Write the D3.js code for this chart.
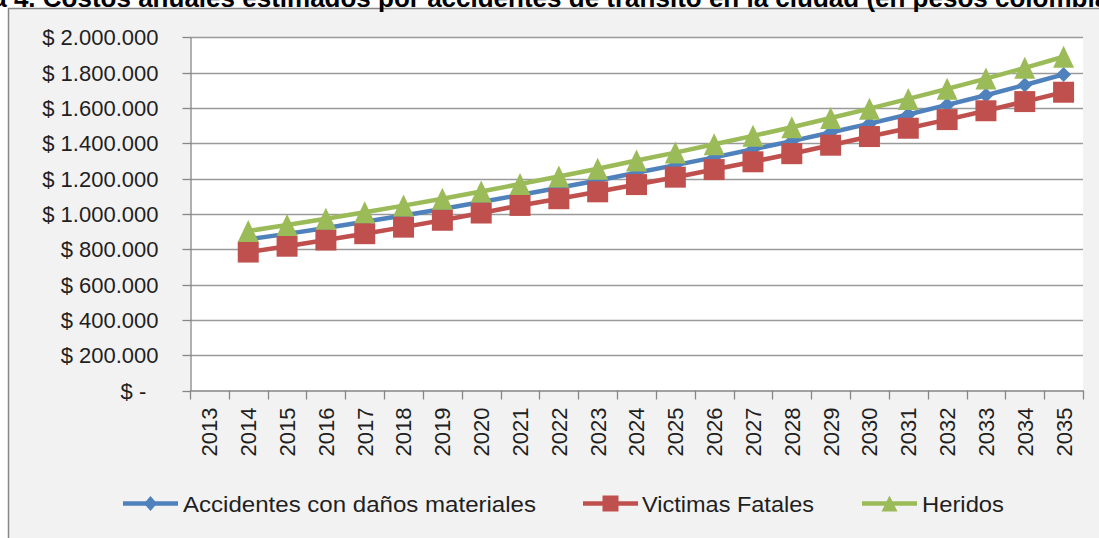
<!DOCTYPE html>
<html>
<head>
<meta charset="utf-8">
<script src="https://cdn.jsdelivr.net/npm/d3@7/dist/d3.min.js"></script>
<style>
  body { margin: 0; background: #ffffff; }
  svg { display: block; }
</style>
</head>
<body>
<svg id="chart" width="1099" height="538"></svg>
<script>
// Categories (2013 has no data)
const years = ["2013","2014","2015","2016","2017","2018","2019","2020","2021","2022","2023",
               "2024","2025","2026","2027","2028","2029","2030","2031","2032","2033","2034","2035"];

// Costs in Colombian pesos
const accidentesDanos = [null, 856000, 887000, 920000, 955000, 991000, 1028000, 1067000, 1107000,
  1148000, 1189000, 1233000, 1276000, 1320000, 1366000, 1412000, 1461000, 1511000, 1563000,
  1617000, 1672000, 1730000, 1790000];
const victimasFatales = [null, 784000, 817000, 852000, 888000, 925000, 964000, 1005000, 1048000,
  1086000, 1125000, 1166000, 1208000, 1251000, 1295000, 1341000, 1389000, 1438000, 1485000,
  1534000, 1584000, 1636000, 1689000];
const heridos = [null, 903000, 937000, 972000, 1009000, 1047000, 1086000, 1127000, 1169000,
  1212000, 1256000, 1302000, 1347000, 1394000, 1442000, 1491000, 1543000, 1596000, 1651000,
  1708000, 1766000, 1827000, 1890000];

const yTicks = [0, 200000, 400000, 600000, 800000, 1000000, 1200000, 1400000, 1600000, 1800000, 2000000];

const seriesNames = ["Accidentes con daños materiales", "Victimas Fatales", "Heridos"];
const seriesColors = ["#4f81bd", "#c0504d", "#9bbb59"];
const seriesShapes = ["diamond", "square", "triangle"];
const seriesValues = [accidentesDanos, victimasFatales, heridos];

const titleText = "Gráfica 4. Costos anuales estimados por accidentes de tránsito en la ciudad (en pesos colombianos)";

const svg = d3.select("#chart");
const font = "'Liberation Sans', Arial, sans-serif";
const textColor = "#1f1f1f";
const axisColor = "#868686";
const gridColor = "#9a9a9a";

// Chart frame
svg.append("rect")
  .attr("x", 8.5).attr("y", 8.5)
  .attr("width", 1200).attr("height", 700)
  .attr("fill", "#f2f2f2")
  .attr("stroke", axisColor).attr("stroke-width", 1.5);

// Title (runs off the top edge)
svg.append("text")
  .attr("x", 1164).attr("y", 7)
  .attr("text-anchor", "end")
  .attr("font-family", font).attr("font-weight", "bold").attr("font-size", 26)
  .attr("fill", "#000")
  .text(titleText);

const plot = { left: 190, right: 1083, top: 37.3, bottom: 390.5 };

const x = d3.scaleBand().domain(years).range([plot.left, plot.right]).padding(0);
const y = d3.scaleLinear().domain([0, 2000000]).range([plot.bottom, plot.top]);

// Plot area
svg.append("rect")
  .attr("x", plot.left).attr("y", plot.top)
  .attr("width", plot.right - plot.left).attr("height", plot.bottom - plot.top)
  .attr("fill", "#ffffff");

// Horizontal gridlines
svg.append("g")
  .selectAll("line")
  .data(yTicks.filter(d => d > 0))
  .join("line")
  .attr("x1", plot.left).attr("x2", plot.right)
  .attr("y1", d => Math.round(y(d)) + 0.5).attr("y2", d => Math.round(y(d)) + 0.5)
  .attr("stroke", gridColor).attr("stroke-width", 1.3);

// Y axis
const fmtPesos = v => v === 0 ? "$ -\u2007" : "$ " + d3.format(",")(v).replace(/,/g, ".");
const yAxis = svg.append("g")
  .attr("transform", `translate(${plot.left + 0.5},0)`)
  .call(d3.axisLeft(y).tickValues(yTicks).tickFormat(fmtPesos).tickSize(8).tickSizeOuter(0).tickPadding(24));
yAxis.selectAll(".tick line").attr("stroke", axisColor).attr("stroke-width", 1.3);
yAxis.selectAll(".tick").attr("transform", d => `translate(0,${Math.round(y(d)) + 0.5})`);
yAxis.select(".domain").attr("stroke", axisColor).attr("stroke-width", 1.3);
yAxis.selectAll("text")
  .attr("font-family", font).attr("font-size", 22).attr("fill", textColor);

// X axis: labels centred in each category, ticks on category boundaries
const xAxis = svg.append("g")
  .attr("transform", `translate(0,${plot.bottom})`)
  .call(d3.axisBottom(x).tickSize(0).tickSizeOuter(0).tickPadding(0));
xAxis.select(".domain").attr("stroke", axisColor).attr("stroke-width", 1.3);
xAxis.selectAll(".tick text")
  .attr("font-family", font).attr("font-size", 22).attr("fill", textColor)
  .attr("text-anchor", "end")
  .attr("transform", "rotate(-90)")
  .attr("x", -17).attr("y", 0).attr("dy", "0.36em");

const boundaries = years.map(d => x(d)).concat([x.range()[1]]);
xAxis.append("g")
  .selectAll("line")
  .data(boundaries)
  .join("line")
  .attr("x1", d => Math.round(d) + 0.5).attr("x2", d => Math.round(d) + 0.5)
  .attr("y1", 0).attr("y2", 9)
  .attr("stroke", axisColor).attr("stroke-width", 1.3);

// Marker shapes
function markerPath(shape, w, h) {
  const hw = w / 2, hh = h / 2;
  if (shape === "diamond") return `M0,${-hh}L${hw},0L0,${hh}L${-hw},0Z`;
  if (shape === "square") return `M${-hw},${-hh}H${hw}V${hh}H${-hw}Z`;
  return `M0,${-hh}L${hw},${hh}H${-hw}Z`;
}
const markerSize = {
  diamond: [15, 15],
  square: [21, 21],
  triangle: [21, 22]
};

const line = d3.line()
  .defined(d => d.v != null)
  .x(d => x(d.year) + x.bandwidth() / 2)
  .y(d => y(d.v));

seriesValues.forEach((vals, i) => {
  const data = years.map((yr, j) => ({ year: yr, v: vals[j] }));
  const g = svg.append("g");
  g.append("path")
    .datum(data)
    .attr("d", line)
    .attr("fill", "none")
    .attr("stroke", seriesColors[i])
    .attr("stroke-width", 4.5)
    .attr("stroke-linejoin", "round");
  const [mw, mh] = markerSize[seriesShapes[i]];
  g.selectAll("path.marker")
    .data(data.filter(d => d.v != null))
    .join("path")
    .attr("class", "marker")
    .attr("d", markerPath(seriesShapes[i], mw, mh))
    .attr("transform", d => `translate(${x(d.year) + x.bandwidth() / 2},${y(d.v)})`)
    .attr("fill", seriesColors[i]);
});

// Legend
const legendItems = [
  { lineX: 123, textX: 183, textW: 353 },
  { lineX: 583, textX: 642, textW: 172 },
  { lineX: 862, textX: 922, textW: 82 }
];
const legendY = 503.5;
const legend = svg.append("g");
seriesNames.forEach((name, i) => {
  const it = legendItems[i];
  legend.append("line")
    .attr("x1", it.lineX).attr("x2", it.lineX + 55)
    .attr("y1", legendY).attr("y2", legendY)
    .attr("stroke", seriesColors[i]).attr("stroke-width", 4.5);
  const legendMarker = { diamond: [13, 15], square: [16, 16], triangle: [16, 16] }[seriesShapes[i]];
  legend.append("path")
    .attr("d", markerPath(seriesShapes[i], legendMarker[0], legendMarker[1]))
    .attr("transform", `translate(${it.lineX + 27.5},${legendY})`)
    .attr("fill", seriesColors[i]);
  legend.append("text")
    .attr("x", it.textX).attr("y", legendY + 8)
    .attr("font-family", font).attr("font-size", 22).attr("fill", textColor)
    .attr("textLength", it.textW).attr("lengthAdjust", "spacingAndGlyphs")
    .text(name);
});
</script>
</body>
</html>
